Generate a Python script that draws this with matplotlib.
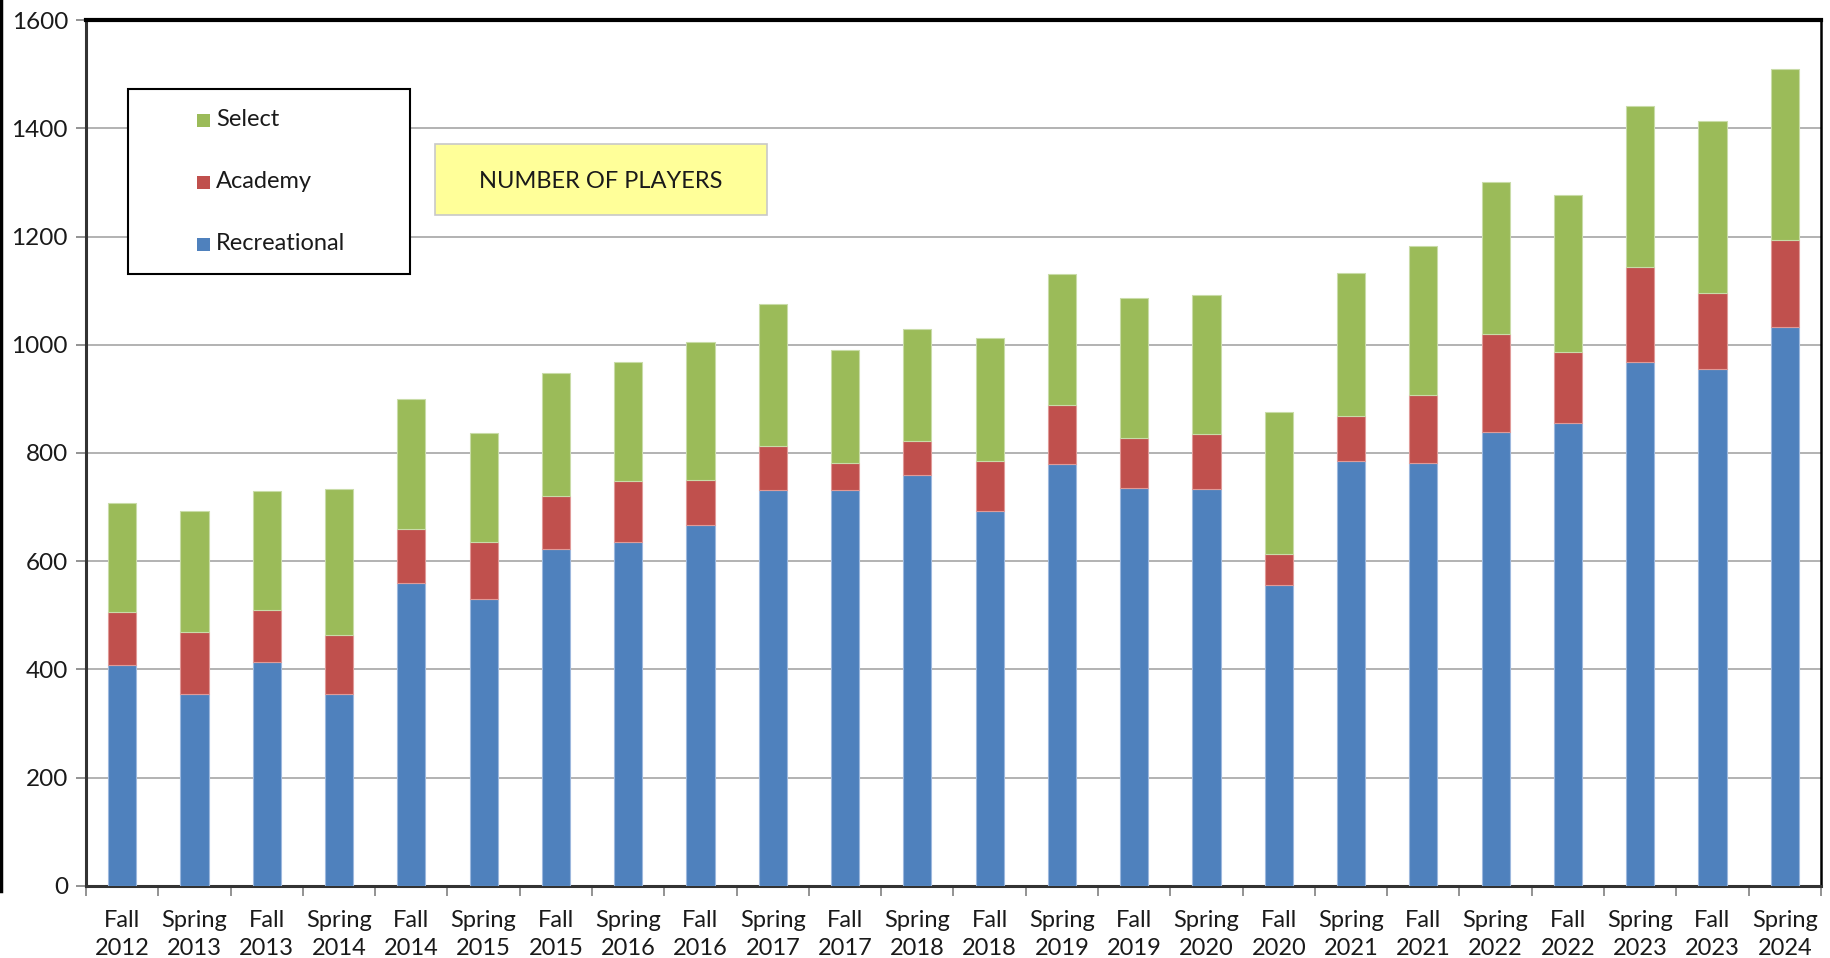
import numpy as np
import matplotlib
matplotlib.use('Agg')
import matplotlib.pyplot as plt
from matplotlib.patches import Rectangle
from matplotlib.lines import Line2D

seasons = ['Fall\n2012', 'Spring\n2013', 'Fall\n2013', 'Spring\n2014', 'Fall\n2014', 'Spring\n2015',
           'Fall\n2015', 'Spring\n2016', 'Fall\n2016', 'Spring\n2017', 'Fall\n2017', 'Spring\n2018',
           'Fall\n2018', 'Spring\n2019', 'Fall\n2019', 'Spring\n2020', 'Fall\n2020', 'Spring\n2021',
           'Fall\n2021', 'Spring\n2022', 'Fall\n2022', 'Spring\n2023', 'Fall\n2023', 'Spring\n2024']

# stacked totals
recreational = [408, 354, 414, 354, 559, 531, 623, 636, 667, 731, 731, 759,
                692, 779, 736, 733, 557, 785, 781, 839, 856, 969, 956, 1032]
academy_top = [507, 470, 509, 464, 660, 636, 720, 748, 751, 813, 781, 822,
               785, 889, 828, 835, 613, 869, 908, 1020, 987, 1143, 1096, 1194]
total = [708, 692, 729, 733, 899, 837, 947, 968, 1005, 1076, 990, 1029,
         1012, 1130, 1087, 1091, 876, 1132, 1183, 1301, 1276, 1442, 1414, 1509]

academy = [a - r for a, r in zip(academy_top, recreational)]
select = [t - a for t, a in zip(total, academy_top)]

plt.rcParams['font.family'] = ['Lato', 'DejaVu Sans']

fig = plt.figure(figsize=(18.31, 9.58), dpi=100)
ax = fig.add_axes([0.047, 0.0752, 0.9475, 0.9039])

x = np.arange(len(seasons))
w = 0.39
blue, red, green = '#4F81BD', '#C0504D', '#9BBB59'
ax.bar(x, recreational, w, color=blue, edgecolor='#9db8de', linewidth=0.8, zorder=3)
ax.bar(x, academy, w, bottom=recreational, color=red, edgecolor='#e09a98', linewidth=0.8, zorder=3)
ax.bar(x, select, w, bottom=academy_top, color=green, edgecolor='#c9dca8', linewidth=0.8, zorder=3)

ax.set_xlim(-0.5, len(seasons) - 0.5)
ax.set_ylim(0, 1600)
ax.set_yticks(range(0, 1601, 200))
ax.yaxis.grid(True, color='#a6a6a6', linewidth=1.2, zorder=0)

ax.set_xticks(x)
ax.set_xticklabels(seasons, fontsize=17, color='#1a1a1a', linespacing=1.45)
ax.set_xticks(np.arange(-0.5, len(seasons)), minor=True)
ax.tick_params(axis='x', which='major', length=0, pad=17)
ax.tick_params(axis='x', which='minor', length=7, width=1.2, color='#808080', direction='out')
ax.tick_params(axis='y', length=7, width=1.2, color='#808080', direction='out',
               labelsize=17.5, labelcolor='#1a1a1a', pad=6)

ax.spines['top'].set_linewidth(3)
ax.spines['top'].set_color('black')
ax.spines['right'].set_linewidth(1.8)
ax.spines['right'].set_color('black')
ax.spines['left'].set_linewidth(2.2)
ax.spines['left'].set_color('#333333')
ax.spines['bottom'].set_linewidth(2.2)
ax.spines['bottom'].set_color('#333333')

W, H = 1831.0, 958.0

def fx(px):
    return px / W

def fy(py):
    return 1 - py / H

# legend box
fig.add_artist(Rectangle((fx(128.5), fy(274.5)), fx(410) - fx(128.5), fy(88.7) - fy(274.5),
                         transform=fig.transFigure, facecolor='white', edgecolor='black',
                         linewidth=1.5, zorder=5))
for label, col, py in [('Select', green, 120), ('Academy', red, 182), ('Recreational', blue, 244)]:
    fig.add_artist(Rectangle((fx(197), fy(py + 6.5)), fx(13), 13 / H, transform=fig.transFigure,
                             facecolor=col, edgecolor='none', zorder=6))
    fig.text(fx(216), fy(py), label, fontsize=17, color='#1a1a1a', va='center', ha='left', zorder=7)

# title box
fig.add_artist(Rectangle((fx(435.5), fy(215)), fx(767) - fx(435.5), fy(143.6) - fy(215),
                         transform=fig.transFigure, facecolor='#FFFF99', edgecolor='#c8c8c8',
                         linewidth=1.2, zorder=5))
fig.text(fx(601), fy(181), 'NUMBER OF PLAYERS', fontsize=17, color='#1a1a1a',
         ha='center', va='center', zorder=7)

fig.add_artist(Line2D([0.0008, 0.0008], [0.07, 1], transform=fig.transFigure, color='black', linewidth=2.5))

fig.savefig('out.png', dpi=100)
